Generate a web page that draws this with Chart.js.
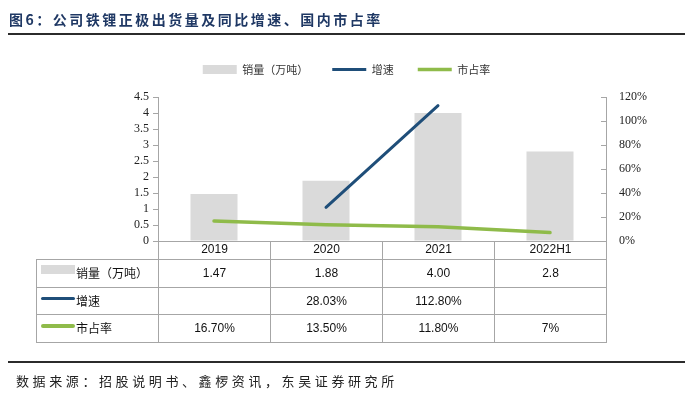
<!DOCTYPE html>
<html>
<head>
<meta charset="utf-8">
<script src="https://cdn.jsdelivr.net/npm/chart.js@4"></script>
<style>
  body { margin: 0; background: #fff; }
  #wrap { position: relative; width: 693px; height: 394px; overflow: hidden; }
  #chart { position: absolute; left: 0; top: 0; }
  .title { position: absolute; left: 9px; top: 9px; font: bold 14px "Noto Sans CJK SC"; color: #1F3864; letter-spacing: 2.5px; white-space: nowrap; }
  .rule { position: absolute; left: 8px; width: 677px; height: 2px; background: #2b2b2b; }
  .src { position: absolute; left: 16px; top: 371px; font: 13px "Noto Sans CJK SC"; color: #222; letter-spacing: 3.6px; white-space: nowrap; }
  .cell { position: absolute; box-sizing: border-box; border: 1px solid #a6a6a6; font: 12px "Liberation Sans", Arial, sans-serif; color: #111; text-align: center; }
  .lab { text-align: left; font-family: "Noto Sans CJK SC"; }
  .sw { position: absolute; left: 4px; width: 34px; }
</style>
</head>
<body>
<div id="wrap">
  <canvas id="chart" width="693" height="394"></canvas>
  <div class="title">图6：公司铁锂正极出货量及同比增速、国内市占率</div>
  <div class="rule" style="top:33px"></div>
  <div class="rule" style="top:361px"></div>
  <div class="src">数据来源：招股说明书、鑫椤资讯，东吴证券研究所</div>
  <div id="table"></div>
</div>
<script>
const categories = ['2019', '2020', '2021', '2022H1']
const sales = [1.47, 1.88, 4.00, 2.8]
const growth = [null, 0.2803, 1.128, null]
const share = [0.167, 0.135, 0.118, 0.07]

const seriesNames = ['销量（万吨）', '增速', '市占率']
const salesText = ['1.47', '1.88', '4.00', '2.8']
const growthText = ['', '28.03%', '112.80%', '']
const shareText = ['16.70%', '13.50%', '11.80%', '7%']

const barGray = '#dadada'
const blue = '#1f4e79'
const green = '#8fbb4a'
const axisGray = '#a6a6a6'

// push the plot down a bit under the legend
const legendGap = {
  id: 'legendGap',
  beforeInit(chart) {
    const fit = chart.legend.fit
    chart.legend.fit = function () {
      fit.bind(chart.legend)()
      this.height = 57
    }
  }
}

const chart = new Chart(document.getElementById('chart'), {
  type: 'bar',
  data: {
    labels: categories,
    datasets: [
      {
        label: seriesNames[0],
        data: sales,
        backgroundColor: barGray,
        barPercentage: 0.42,
        categoryPercentage: 1,
        pointStyle: 'rect',
        yAxisID: 'y',
        order: 2
      },
      {
        type: 'line',
        label: seriesNames[1],
        data: growth,
        borderColor: blue,
        backgroundColor: blue,
        borderWidth: 3,
        borderCapStyle: 'round',
        pointRadius: 0,
        pointStyle: 'line',
        spanGaps: false,
        yAxisID: 'y1',
        order: 0
      },
      {
        type: 'line',
        label: seriesNames[2],
        data: share,
        borderColor: green,
        backgroundColor: green,
        borderWidth: 3.5,
        borderCapStyle: 'round',
        pointRadius: 0,
        pointStyle: 'line',
        yAxisID: 'y1',
        order: 1
      }
    ]
  },
  options: {
    responsive: false,
    animation: false,
    layout: { padding: { top: 40, left: 0, right: 0, bottom: 0 } },
    plugins: {
      legend: {
        labels: {
          usePointStyle: true,
          pointStyleWidth: 34,
          boxHeight: 9,
          padding: 24,
          color: '#333',
          font: { family: 'Noto Sans CJK SC', size: 11 },
          sort: (a, b) => a.datasetIndex - b.datasetIndex
        }
      },
      tooltip: { enabled: false }
    },
    scales: {
      x: {
        ticks: { display: false },
        grid: { display: false },
        border: { display: true, color: axisGray },
        afterFit: s => { s.height = 153 }
      },
      y: {
        position: 'left',
        min: 0,
        max: 4.5,
        ticks: {
          stepSize: 0.5,
          autoSkip: false,
          padding: 4,
          color: '#222',
          font: { family: 'Liberation Serif', size: 12 },
          callback: v => String(v)
        },
        grid: { drawOnChartArea: false, tickLength: 5, color: axisGray },
        border: { color: axisGray },
        afterFit: s => { s.width = 158 }
      },
      y1: {
        position: 'right',
        min: 0,
        max: 1.2,
        ticks: {
          stepSize: 0.2,
          autoSkip: false,
          padding: 18,
          color: '#222',
          font: { family: 'Liberation Serif', size: 12 },
          callback: v => Math.round(v * 100) + '%'
        },
        grid: { drawOnChartArea: false, tickLength: -5, color: axisGray },
        border: { color: axisGray },
        afterFit: s => { s.width = 87 }
      }
    }
  },
  plugins: [legendGap]
})

// data table under the axis, columns follow the x scale
const table = document.getElementById('table')
const xs = chart.scales.x
const area = chart.chartArea
const half = (xs.getPixelForValue(1) - xs.getPixelForValue(0)) / 2
const edges = categories.map((c, i) => xs.getPixelForValue(i) - half)
edges.push(xs.getPixelForValue(categories.length - 1) + half)
const labelLeft = 36
const headTop = area.bottom
const rowTop = headTop + 18
const rowH = 27.5

function cell(x, y, w, h, text, cls, style) {
  const d = document.createElement('div')
  d.className = 'cell' + (cls ? ' ' + cls : '')
  d.style.left = x + 'px'
  d.style.top = y + 'px'
  d.style.width = (w + 1) + 'px'
  d.style.height = (h + 1) + 'px'
  d.style.lineHeight = (h - 1) + 'px'
  if (style) Object.assign(d.style, style)
  d.textContent = text
  table.appendChild(d)
  return d
}

categories.forEach((c, i) => {
  cell(edges[i], headTop, edges[i + 1] - edges[i], rowTop - headTop, c, '', { borderTop: 'none', borderBottom: 'none' })
})

const rows = [
  { name: seriesNames[0], texts: salesText, swatch: { top: '5px', height: '9px', background: barGray } },
  { name: seriesNames[1], texts: growthText, swatch: { top: '9px', height: '3px', background: blue, borderRadius: '2px' } },
  { name: seriesNames[2], texts: shareText, swatch: { top: '9px', height: '3.5px', background: green, borderRadius: '2px' } }
]

rows.forEach((r, k) => {
  const y = rowTop + k * rowH
  const lab = cell(labelLeft, y, edges[0] - labelLeft, rowH, r.name, 'lab', { paddingLeft: '39px' })
  const sw = document.createElement('div')
  sw.className = 'sw'
  Object.assign(sw.style, r.swatch)
  lab.appendChild(sw)
  r.texts.forEach((t, i) => {
    cell(edges[i], y, edges[i + 1] - edges[i], rowH, t)
  })
})
</script>
</body>
</html>
